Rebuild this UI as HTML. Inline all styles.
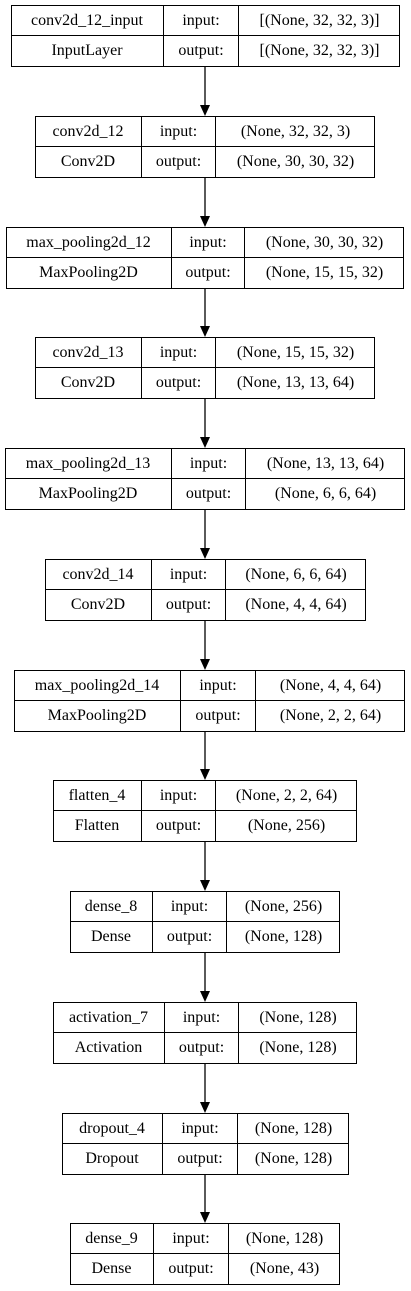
<!DOCTYPE html>
<html><head><meta charset="utf-8">
<style>
html,body{margin:0;padding:0;background:#fff;}
body{width:411px;height:1291px;position:relative;overflow:hidden;font-family:"Liberation Serif",serif;font-size:16px;color:#000;}
.box{position:absolute;border:1px solid #000;box-sizing:border-box;background:#fff;}
.cell{position:absolute;display:flex;align-items:center;justify-content:center;white-space:nowrap;box-sizing:border-box;}
svg{position:absolute;left:0;top:0;}
</style></head><body>
<svg id="arrows" width="411" height="1291"></svg>
<script>
const names=["conv2d_12_input","conv2d_12","max_pooling2d_12","conv2d_13","max_pooling2d_13","conv2d_14","max_pooling2d_14","flatten_4","dense_8","activation_7","dropout_4","dense_9"];
const types=["InputLayer","Conv2D","MaxPooling2D","Conv2D","MaxPooling2D","Conv2D","MaxPooling2D","Flatten","Dense","Activation","Dropout","Dense"];
const inputs=["[(None, 32, 32, 3)]","(None, 32, 32, 3)","(None, 30, 30, 32)","(None, 15, 15, 32)","(None, 13, 13, 64)","(None, 6, 6, 64)","(None, 4, 4, 64)","(None, 2, 2, 64)","(None, 256)","(None, 128)","(None, 128)","(None, 128)"];
const outputs=["[(None, 32, 32, 3)]","(None, 30, 30, 32)","(None, 15, 15, 32)","(None, 13, 13, 64)","(None, 6, 6, 64)","(None, 4, 4, 64)","(None, 2, 2, 64)","(None, 256)","(None, 128)","(None, 128)","(None, 128)","(None, 43)"];
const geo=[[11,164,239,400],[35,142,216,375],[6,172,245,404],[35,142,216,375],[5,172,246,405],[45,152,226,366],[14,181,256,405],[53,142,216,357],[70,153,227,340],[53,165,239,357],[62,163,238,349],[70,154,229,340]];
const H=62, cx=205;
const svg=document.getElementById('arrows');
names.forEach((n,i)=>{
  const top=Math.round(5+i*110.75);
  const [x0,d1,d2,x1]=geo[i];
  const b=document.createElement('div');
  b.className='box';
  
  
  b.style.left=x0+'px';b.style.top=top+'px';b.style.width=(x1-x0)+'px';b.style.height=H+'px';
  const w=x1-x0, half=(H-2)/2;
  const cells=[[0,0,d1-x0,n,'layer-name'],[d1-x0,0,d2-d1,'input:','input-label'],[d2-x0,0,x1-d2,inputs[i],'input-shape'],
               [0,1,d1-x0,types[i],'layer-type'],[d1-x0,1,d2-d1,'output:','output-label'],[d2-x0,1,x1-d2,outputs[i],'output-shape']];
  cells.forEach(c=>{
    const e=document.createElement('div');
    e.className='cell';
    
    
    e.style.left=(c[0]-1)+'px';e.style.top=(c[1]*half-1)+'px';e.style.width=c[2]+'px';e.style.height=(half+1)+'px';
    e.style.borderRight=(c[0]+c[2]<w)?'1px solid #000':'none';
    e.style.borderTop=c[1]?'1px solid #000':'none';
    e.textContent=c[3];
    b.appendChild(e);
  });
  document.body.appendChild(b);
  if(i<names.length-1){
    const y0=top+H, y1=Math.round(5+(i+1)*110.75);
    const l=document.createElementNS('http://www.w3.org/2000/svg','line');
    
    
    l.setAttribute('x1',cx);l.setAttribute('x2',cx);l.setAttribute('y1',y0);l.setAttribute('y2',y1-10);
    l.setAttribute('stroke','#000');l.setAttribute('stroke-width','1.3');
    svg.appendChild(l);
    const p=document.createElementNS('http://www.w3.org/2000/svg','polygon');
    
    
    p.setAttribute('points',`${cx-5},${y1-11} ${cx+5},${y1-11} ${cx},${y1}`);
    svg.appendChild(p);
  }
});
</script>
</body></html>
